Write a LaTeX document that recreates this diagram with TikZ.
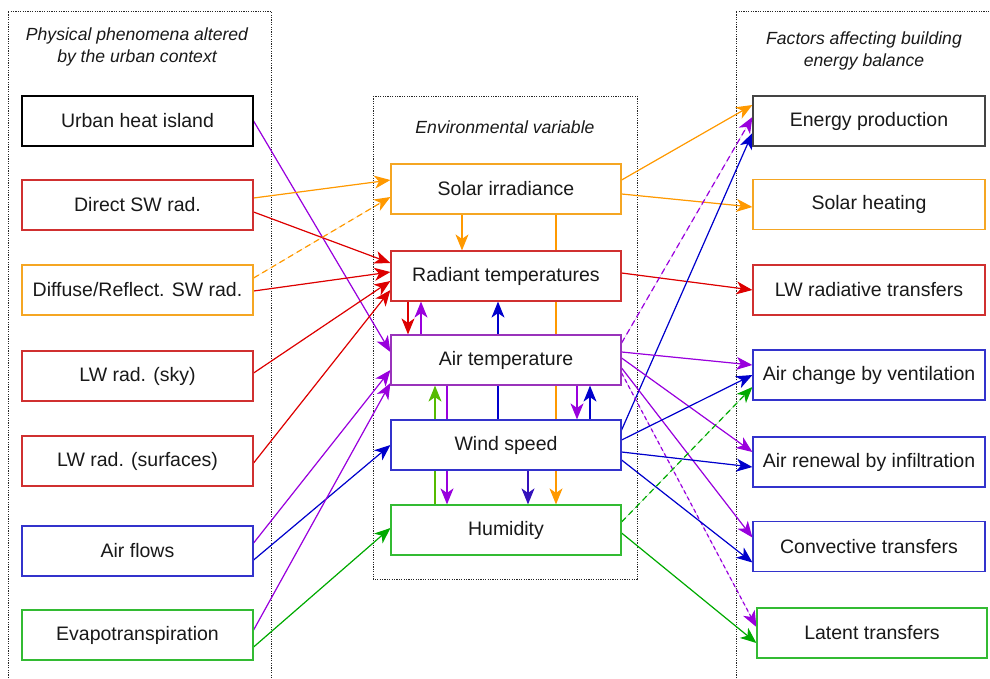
\documentclass[tikz,border=0pt]{standalone}
\usepackage{fontspec}
\setmainfont{Liberation Sans}
\usetikzlibrary{arrows.meta,backgrounds}
\definecolor{corg}{HTML}{FF9900}
\definecolor{corgb}{HTML}{F5A623}
\definecolor{cred}{HTML}{DD0000}
\definecolor{credb}{HTML}{D03030}
\definecolor{cpur}{HTML}{9900DD}
\definecolor{cpurb}{HTML}{9933BB}
\definecolor{cblu}{HTML}{0000CC}
\definecolor{cblub}{HTML}{3333CC}
\definecolor{cgrn}{HTML}{00AA00}
\definecolor{cgrnb}{HTML}{33BB33}
\definecolor{clgrn}{HTML}{55BB00}
\definecolor{cind}{HTML}{3311BB}
\definecolor{cgry}{HTML}{444444}
\begin{document}
\begin{tikzpicture}[x=1pt,y=-1pt,
  box/.style={draw, fill=white, line width=1.2pt, minimum width=231pt, minimum height=50pt,
    inner sep=0pt, font=\fontsize{19.5}{23}\selectfont, text=black!90},
  ttl/.style={font=\fontsize{17.6}{22}\selectfont\itshape, align=center, text=black!90},
  cont/.style={draw=black!85, line width=0.9pt, dash pattern=on 1.2pt off 1.2pt},
  conn/.style={line width=1.2pt, -{Stealth[length=16pt,width=13pt,inset=4.5pt]}},
  org/.style={conn, draw=corg, fill=corg},
  rd/.style={conn, draw=cred, fill=cred},
  pur/.style={conn, draw=cpur, fill=cpur},
  blu/.style={conn, draw=cblu, fill=cblu},
  grn/.style={conn, draw=cgrn, fill=cgrn},
  lgrn/.style={conn, draw=clgrn, fill=clgrn},
  ind/.style={conn, draw=cind, fill=cind},
  dsh/.style={dash pattern=on 6pt off 4pt}
]
\useasboundingbox (0,0) rectangle (990,678);

% left column
\node[box, draw=black] (uhi) at (137.5,121) {Urban heat island};
\node[box, draw=credb] (dsw) at (137.5,205) {Direct SW rad.};
\node[box, draw=corgb] (diff) at (137.5,290) {Diffuse/Reflect. SW rad.};
\node[box, draw=credb] (lwsky) at (137.5,376) {LW rad. (sky)};
\node[box, draw=credb] (lwsurf) at (137.5,461) {LW rad. (surfaces)};
\node[box, draw=cblub] (flows) at (137.5,551) {Air flows};
\node[box, draw=cgrnb] (evap) at (137.5,635) {Evapotranspiration};

% middle column
\node[box, minimum width=230pt, draw=corgb] (solar) at (506,189) {Solar irradiance};
\node[box, minimum width=230pt, draw=credb] (rad) at (506,276) {Radiant temperatures};
\node[box, minimum width=230pt, draw=cpurb] (air) at (506,360) {Air temperature};
\node[box, minimum width=230pt, draw=cblub] (wind) at (506,445) {Wind speed};
\node[box, minimum width=230pt, draw=cgrnb] (hum) at (506,530) {Humidity};

% right column
\node[box, minimum width=232pt, draw=cgry] (enprod) at (869,121) {Energy production};
\node[box, minimum width=232pt, draw=corgb] (solheat) at (869,204.5) {Solar heating};
\node[box, minimum width=232pt, draw=credb] (lwrt) at (869,290) {LW radiative transfers};
\node[box, minimum width=232pt, draw=cblub] (airch) at (869,375) {Air change by ventilation};
\node[box, minimum width=232pt, draw=cblub] (airren) at (869,462) {Air renewal by infiltration};
\node[box, minimum width=232pt, draw=cblub] (conv) at (869,546.5) {Convective transfers};
\node[box, minimum width=230pt, draw=cgrnb] (latent) at (872,633) {Latent transfers};

% titles
\node[ttl] (tleft) at (137,47) {Physical phenomena altered\\by the urban context};
\node[ttl] (tright) at (864,51) {Factors affecting building\\energy balance};
\node[ttl] (tmid) at (505,127) {Environmental variable};

\begin{pgfonlayer}{background}
% containers
\draw[cont] (8,678) -- (8,11) -- (271,11) -- (271,678);
\draw[cont] (736,678) -- (736,11) -- (990,11);
\draw[cont] (373,96) rectangle (637,579);

% left -> middle
\draw[pur] (uhi.east) -- ([yshift=8pt]air.west);
\draw[org] ([yshift=7pt]dsw.east) -- ([yshift=9pt]solar.west);
\draw[rd] ([yshift=-7pt]dsw.east) -- ([yshift=13pt]rad.west);
\draw[org, dsh] ([yshift=12pt]diff.east) -- ([yshift=-8pt]solar.west);
\draw[rd] ([yshift=-1pt]diff.east) -- ([yshift=4pt]rad.west);
\draw[rd] ([yshift=3pt]lwsky.east) -- ([yshift=-5pt]rad.west);
\draw[rd] ([yshift=-2pt]lwsurf.east) -- ([yshift=-14pt]rad.west);
\draw[pur] ([yshift=8pt]flows.east) -- ([yshift=-10pt]air.west);
\draw[blu] ([yshift=-9pt]flows.east) -- (wind.west);
\draw[pur] ([yshift=5pt]evap.east) -- ([yshift=-23pt]air.west);
\draw[grn] ([yshift=-12pt]evap.east) -- ([yshift=2pt]hum.west);

% middle internal
\draw[org] ([xshift=-44pt]solar.south) -- ([xshift=-44pt]rad.north);
\draw[org] ([xshift=50pt]solar.south) -- ([xshift=50pt]hum.north);
\draw[rd] ([xshift=-98pt]rad.south) -- ([xshift=-98pt]air.north);
\draw[pur] ([xshift=-85pt]air.north) -- ([xshift=-85pt]rad.south);
\draw[blu] ([xshift=-8pt]wind.north) -- ([xshift=-8pt]rad.south);
\draw[lgrn] ([xshift=-71pt]hum.north) -- ([xshift=-71pt]air.south);
\draw[pur] ([xshift=-59pt]air.south) -- ([xshift=-59pt]hum.north);
\draw[pur] ([xshift=71pt]air.south) -- ([xshift=71pt]wind.north);
\draw[blu] ([xshift=84pt]wind.north) -- ([xshift=84pt]air.south);
\draw[ind] ([xshift=22pt]wind.south) -- ([xshift=22pt]hum.north);

% middle -> right
\draw[org] ([yshift=9pt]solar.east) -- ([yshift=16pt]enprod.west);
\draw[org] ([yshift=-5pt]solar.east) -- ([yshift=-2.5pt]solheat.west);
\draw[rd] ([yshift=3pt]rad.east) -- (lwrt.west);
\draw[pur, dsh] ([yshift=17pt]air.east) -- ([yshift=4pt]enprod.west);
\draw[blu] ([yshift=15pt]wind.east) -- ([yshift=-12pt]enprod.west);
\draw[pur] ([yshift=8pt]air.east) -- ([yshift=10pt]airch.west);
\draw[pur] ([yshift=2pt]air.east) -- ([yshift=10pt]airren.west);
\draw[pur] ([yshift=-8pt]air.east) -- ([yshift=9pt]conv.west);
\draw[pur, dash pattern=on 4pt off 3pt] ([yshift=-13pt]air.east) -- ([yshift=6pt]latent.west);
\draw[blu] ([yshift=5pt]wind.east) -- (airch.west);
\draw[blu] ([yshift=-7pt]wind.east) -- ([yshift=-5pt]airren.west);
\draw[blu] ([yshift=-15pt]wind.east) -- ([yshift=-16pt]conv.west);
\draw[grn, dsh] ([yshift=8pt]hum.east) -- ([yshift=-12pt]airch.west);
\draw[grn] ([yshift=-3pt]hum.east) -- ([yshift=-10pt]latent.west);
\end{pgfonlayer}
\end{tikzpicture}
\end{document}
